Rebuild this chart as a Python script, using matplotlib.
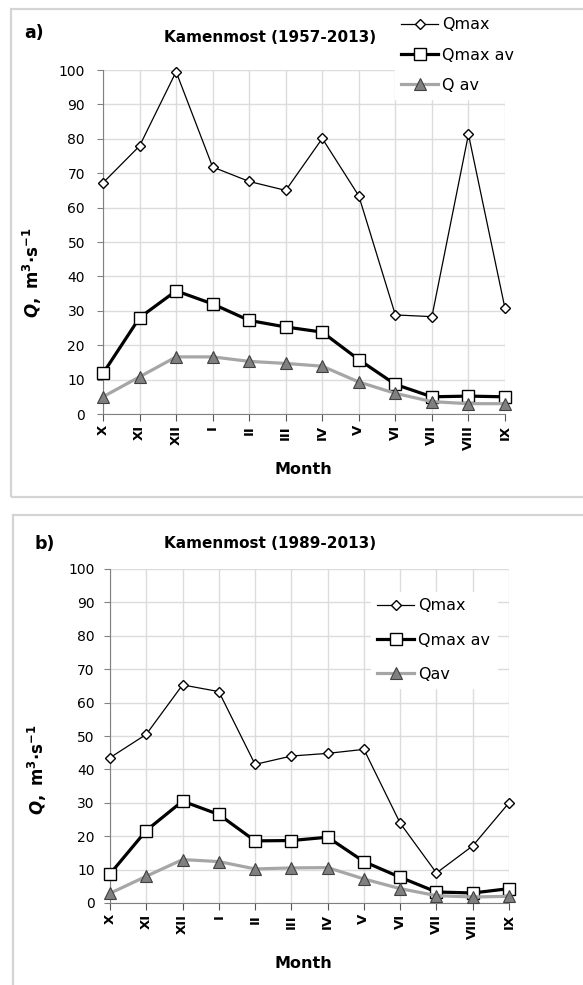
import numpy as np
import matplotlib.pyplot as plt
from matplotlib.patches import Rectangle

plt.rcParams['font.family'] = ['DejaVu Sans']
plt.rcParams['mathtext.fontset'] = 'dejavusans'

months = ['X', 'XI', 'XII', 'I', 'II', 'III', 'IV', 'V', 'VI', 'VII', 'VIII', 'IX']

# a) Kamenmost 1957-2013
qmax_a = [67.2, 77.9, 99.5, 71.8, 67.6, 65.0, 80.1, 63.4, 28.8, 28.3, 81.3, 30.7]
qmaxav_a = [11.8, 28.0, 35.8, 32.0, 27.2, 25.3, 23.8, 15.8, 8.6, 5.0, 5.2, 5.0]
qav_a = [5.0, 10.8, 16.6, 16.6, 15.3, 14.7, 13.9, 9.3, 6.0, 3.6, 3.0, 3.0]

# b) Kamenmost 1989-2013
qmax_b = [43.5, 50.5, 65.3, 63.3, 41.5, 44.0, 44.8, 46.0, 23.9, 9.0, 17.1, 30.0]
qmaxav_b = [8.7, 21.7, 30.5, 26.5, 18.6, 18.7, 19.7, 12.4, 7.7, 3.3, 3.0, 4.3]
qav_b = [2.9, 8.0, 13.0, 12.4, 10.2, 10.5, 10.6, 7.2, 4.3, 2.2, 1.8, 2.0]

W, H = 583, 985
fig = plt.figure(figsize=(W / 100, H / 100), dpi=100)

def px(x, y):
    return x / W, 1 - y / H

# light grey frames around both panels
fig.patches.append(Rectangle(px(11, 497), 600 / W, 488 / H, transform=fig.transFigure,
                             fill=False, edgecolor='#d4d4d4', lw=1.6))
fig.patches.append(Rectangle(px(13, 1010), 600 / W, 495 / H, transform=fig.transFigure,
                             fill=False, edgecolor='#d4d4d4', lw=1.6))

def panel(rect, qmax, qmaxav, qav, title, tag, tag_xy, title_xy, ylab_xy, month_xy,
          leg_xy, labels, lspace, ypad):
    ax = fig.add_axes(rect)
    x = np.arange(len(months))
    ax.plot(x, qmax, color='black', lw=0.9, marker='D', ms=5.5, mfc='white',
            mec='black', mew=1.0, clip_on=False, zorder=3, label=labels[0])
    ax.plot(x, qmaxav, color='black', lw=2.3, marker='s', ms=8, mfc='white',
            mec='black', mew=1.0, clip_on=False, zorder=4, label=labels[1])
    ax.plot(x, qav, color='#a6a6a6', lw=2.3, marker='^', ms=8.5, mfc='#808080',
            mec='#404040', mew=0.8, clip_on=False, zorder=5, label=labels[2])
    ax.set_xlim(0, 11)
    ax.set_ylim(0, 100)
    ax.set_yticks(np.arange(0, 101, 10))
    ax.set_xticks(x)
    ax.set_xticklabels(months, rotation=90, fontweight='bold', fontsize=9.5)
    ax.tick_params(axis='y', labelsize=10, length=4, pad=ypad, color='#808080')
    ax.tick_params(axis='x', length=5, pad=3, color='#555555')
    ax.grid(True, color='#dcdcdc', lw=1.0)
    ax.set_axisbelow(True)
    for s in ['top', 'right']:
        ax.spines[s].set_visible(False)
    for s in ['left', 'bottom']:
        ax.spines[s].set_color('#808080')
    fig.text(*px(*tag_xy), tag, fontsize=12.5, fontweight='bold', ha='left', va='center')
    fig.text(*px(*title_xy), title, fontsize=11, fontweight='bold', ha='center', va='center')
    fig.text(*px(*ylab_xy), r'$\mathbfit{Q}\mathbf{,\ m^{3}{\cdot}s^{-1}}$', fontsize=12,
             rotation=90, ha='center', va='center')
    fig.text(*px(*month_xy), 'Month', fontsize=11.5, fontweight='bold', ha='center', va='center')
    leg = ax.legend(loc='upper left', bbox_to_anchor=px(*leg_xy), bbox_transform=fig.transFigure,
                    fontsize=11.5, frameon=True, facecolor='white', edgecolor='white',
                    framealpha=1, fancybox=False, borderaxespad=0, borderpad=0.4,
                    handlelength=2.3, handletextpad=0.25, labelspacing=lspace)
    leg.set_zorder(10)
    return ax

panel([103 / W, 1 - 414 / H, 402 / W, 344 / H], qmax_a, qmaxav_a, qav_a,
      'Kamenmost (1957-2013)', 'a)', (24, 33), (270, 37), (32, 273), (303, 470),
      (395, 11), ['Qmax', 'Qmax av', 'Q av'], 0.95, 9)

panel([110 / W, 1 - 903 / H, 399 / W, 334 / H], qmax_b, qmaxav_b, qav_b,
      'Kamenmost (1989-2013)', 'b)', (35, 544), (270, 543), (37, 770), (303, 963),
      (371, 592), ['Qmax', 'Qmax av', 'Qav'], 1.2, 7)

fig.savefig('out.png', dpi=100)
